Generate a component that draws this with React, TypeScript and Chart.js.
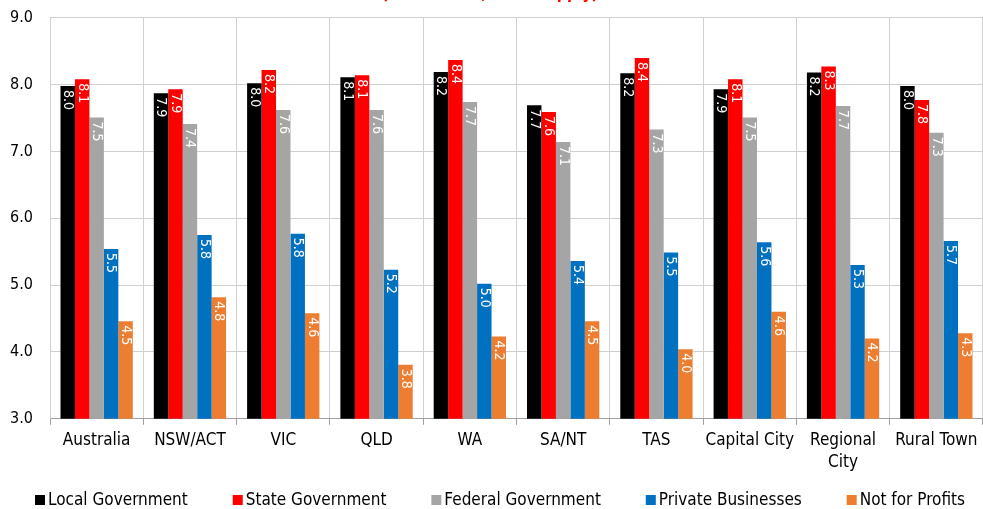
import React, { useEffect, useRef } from "react";
import { Chart, registerables } from "chart.js";

Chart.register(...registerables);

const categories: (string | string[])[] = [
  "Australia",
  "NSW/ACT",
  "VIC",
  "QLD",
  "WA",
  "SA/NT",
  "TAS",
  "Capital City",
  ["Regional", "City"],
  "Rural Town",
];

const localGovernment = [7.98, 7.87, 8.02, 8.11, 8.19, 7.69, 8.17, 7.93, 8.18, 7.98];
const stateGovernment = [8.08, 7.93, 8.22, 8.14, 8.37, 7.59, 8.4, 8.08, 8.27, 7.77];
const federalGovernment = [7.51, 7.41, 7.62, 7.62, 7.74, 7.14, 7.33, 7.51, 7.68, 7.28];
const privateBusinesses = [5.54, 5.75, 5.77, 5.23, 5.02, 5.36, 5.49, 5.64, 5.3, 5.66];
const notForProfits = [4.46, 4.82, 4.58, 3.81, 4.23, 4.46, 4.04, 4.6, 4.2, 4.28];

const seriesNames = [
  "Local Government",
  "State Government",
  "Federal Government",
  "Private Businesses",
  "Not for Profits",
];
const seriesColors = ["#000000", "#FF0000", "#A5A5A5", "#0070C0", "#ED7D31"];

const yTicks = [3, 4, 5, 6, 7, 8, 9];
const titleText = "(Mean score, where apply)";

const FONT = '"DejaVu Sans Condensed", "Liberation Sans Narrow", "Noto Sans", sans-serif';

const barLabelPlugin = {
  id: "barLabels",
  afterDatasetsDraw(chart: any) {
    const ctx = chart.ctx;
    ctx.save();
    ctx.fillStyle = "#ffffff";
    ctx.font = `14px ${FONT}`;
    ctx.textAlign = "left";
    ctx.textBaseline = "middle";
    chart.data.datasets.forEach((ds: any, i: number) => {
      const meta = chart.getDatasetMeta(i);
      meta.data.forEach((bar: any, j: number) => {
        const v = ds.data[j] as number;
        ctx.save();
        ctx.translate(bar.x, bar.y + 4);
        ctx.rotate(Math.PI / 2);
        ctx.fillText(v.toFixed(1), 0, 0);
        ctx.restore();
      });
    });
    ctx.restore();
  },
};

const titlePlugin = {
  id: "cutTitle",
  afterDraw(chart: any) {
    const ctx = chart.ctx;
    ctx.save();
    ctx.fillStyle = "#FF0000";
    ctx.font = `bold 16px ${FONT}`;
    ctx.textAlign = "center";
    ctx.textBaseline = "alphabetic";
    ctx.fillText(titleText, 490, -1);
    ctx.restore();
  },
};

const legendPlugin = {
  id: "customLegend",
  afterDraw(chart: any) {
    const ctx = chart.ctx;
    ctx.save();
    ctx.font = `17px ${FONT}`;
    ctx.textBaseline = "middle";
    ctx.textAlign = "left";
    const box = 10;
    const gapBoxText = 3;
    const widths = chart.data.datasets.map(
      (ds: any) => box + gapBoxText + ctx.measureText(ds.label).width
    );
    const totalTarget = 930;
    const sum = widths.reduce((a: number, b: number) => a + b, 0);
    const gap = (totalTarget - sum) / (widths.length - 1);
    let x = 500 - totalTarget / 2;
    const y = 500;
    chart.data.datasets.forEach((ds: any, i: number) => {
      ctx.fillStyle = ds.backgroundColor;
      ctx.fillRect(x, y - box / 2, box, box);
      ctx.fillStyle = "#000";
      ctx.fillText(ds.label, x + box + gapBoxText, y + 1);
      x += widths[i] + gap;
    });
    ctx.restore();
  },
};

export default function App() {
  const ref = useRef<HTMLCanvasElement>(null);
  useEffect(() => {
    if (!ref.current) return;
    const data = [localGovernment, stateGovernment, federalGovernment, privateBusinesses, notForProfits];
    const chart = new Chart(ref.current, {
      type: "bar",
      data: {
        labels: categories as any,
        datasets: data.map((d, i) => ({
          label: seriesNames[i],
          data: d,
          backgroundColor: seriesColors[i],
          borderWidth: 0,
          categoryPercentage: 0.775,
          barPercentage: 1,
        })),
      },
      options: {
        animation: false,
        responsive: false,
        maintainAspectRatio: false,
        layout: { padding: { top: 0, right: 0, left: 0, bottom: 30 } },
        plugins: {
          legend: { display: false },
          tooltip: { enabled: false },
          title: { display: false },
        },
        scales: {
          x: {
            grid: {
              offset: true,
              color: "#D0D0D0",
              tickColor: "#A0A0A0",
              tickLength: 6,
            },
            border: { color: "#A0A0A0" },
            ticks: {
              color: "#000",
              font: { family: FONT, size: 17, lineHeight: 1.3 },
              padding: 5,
              maxRotation: 0,
              autoSkip: false,
            },
          },
          y: {
            min: 3,
            max: 9,
            afterBuildTicks(scale: any) {
              scale.ticks = yTicks.map((v) => ({ value: v }));
            },
            afterFit(scale: any) {
              scale.width = 50;
            },
            grid: { color: "#D0D0D0", drawTicks: false },
            border: { color: "#D0D0D0" },
            ticks: {
              color: "#000",
              font: { family: FONT, size: 16, lineHeight: 0.1 },
              padding: 17,
              callback: (v: any) => Number(v).toFixed(1),
            },
          },
        },
      },
      plugins: [barLabelPlugin, titlePlugin, legendPlugin],
    });
    return () => chart.destroy();
  }, []);
  return (
    <div style={{ position: "absolute", left: 0, top: 0, width: 983, height: 509, background: "#fff", overflow: "hidden" }}>
      <canvas ref={ref} width={983} height={509} style={{ width: 983, height: 509, display: "block" }} />
    </div>
  );
}
